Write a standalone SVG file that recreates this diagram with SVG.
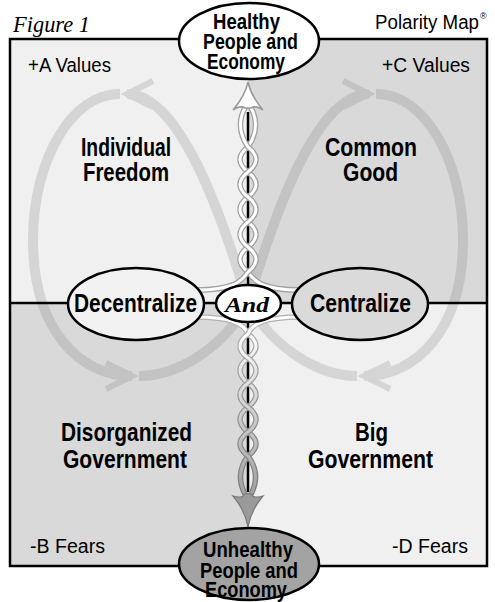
<svg xmlns="http://www.w3.org/2000/svg" xmlns:xlink="http://www.w3.org/1999/xlink" width="495" height="602" viewBox="0 0 495 602">
<style>
.lab{font-family:"Liberation Sans",Arial,sans-serif;font-weight:bold;font-size:25px;fill:#000}
.ell{font-family:"Liberation Sans",Arial,sans-serif;font-weight:bold;font-size:22px;fill:#000}
.reg{font-family:"Liberation Sans",Arial,sans-serif;font-size:20px;fill:#000}
.node{stroke:#000;stroke-width:2.5}
.so{fill:none;stroke:#a0a0a0;stroke-width:5.5}
.si{fill:none;stroke:#fff;stroke-width:3}
.bo{fill:none;stroke:url(#gOut);stroke-width:5.5}
.bi{fill:none;stroke:url(#gIn);stroke-width:3}
</style>
<defs>
<linearGradient id="gIn" gradientUnits="userSpaceOnUse" x1="0" y1="330" x2="0" y2="495">
<stop offset="0" stop-color="#ffffff"/><stop offset="1" stop-color="#a0a0a0"/>
</linearGradient>
<linearGradient id="gOut" gradientUnits="userSpaceOnUse" x1="0" y1="330" x2="0" y2="495">
<stop offset="0" stop-color="#b0b0b0"/><stop offset="1" stop-color="#7a7a7a"/>
</linearGradient>
<clipPath id="lightQ"><rect x="10" y="39" width="238" height="264"/><rect x="248" y="303" width="239" height="263"/></clipPath>
<clipPath id="darkQ"><rect x="248" y="39" width="239" height="264"/><rect x="10" y="303" width="238" height="263"/></clipPath>
<g id="lobe">
<path d="M248,303 C222,215 180,94 127,94"/>
<path d="M120,94 C72,93 33,160 33,240 C33,330 80,376 132,376"/>
<path d="M139,376 C180,376 225,345 248,303"/>
<path d="M153,81 L127,94 L153,107" stroke-width="6"/>
<path d="M106,363 L132,376 L106,389" stroke-width="6"/>
</g>
<g id="loopShape">
<use xlink:href="#lobe"/>
<use xlink:href="#lobe" transform="matrix(-1 0 0 1 496 0)"/>
</g>
</defs>
<g id="background">
<rect x="10" y="39" width="238" height="264" fill="#f0f0f0"/>
<rect x="248" y="39" width="239" height="264" fill="#d9d9d9"/>
<rect x="10" y="303" width="238" height="263" fill="#d9d9d9"/>
<rect x="248" y="303" width="239" height="263" fill="#f0f0f0"/>
</g>
<g id="loop" fill="none" stroke-width="10">
<use xlink:href="#loopShape" stroke="#d5d5d5" clip-path="url(#lightQ)"/>
<use xlink:href="#loopShape" stroke="#c3c3c3" clip-path="url(#darkQ)"/>
</g>
<g id="frame" fill="none" stroke="#000" stroke-width="2.5">
<rect x="10" y="39" width="477" height="527"/>
<line x1="10" y1="303" x2="487" y2="303"/>
</g>
<g id="connectors">
<line x1="248" y1="112" x2="248" y2="492" stroke="#000" stroke-width="2.5"/>
<path class="so" d="M250,106 Q262,126 248,147 Q232,159.5 248,172 Q264,184.5 248,197 Q232,209.5 248,222 Q264,234.5 248,247 Q232,259.5 248,272 C254,281 262,290 300,290"/>
<path class="si" d="M250,106 Q262,126 248,147 Q232,159.5 248,172 Q264,184.5 248,197 Q232,209.5 248,222 Q264,234.5 248,247 Q232,259.5 248,272 C254,281 262,290 300,290"/>
<path class="so" d="M246,106 Q234,126 248,147 Q264,159.5 248,172 Q232,184.5 248,197 Q264,209.5 248,222 Q232,234.5 248,247 Q264,259.5 248,272 C242,281 234,290 196,290"/>
<path class="si" d="M246,106 Q234,126 248,147 Q264,159.5 248,172 Q232,184.5 248,197 Q264,209.5 248,222 Q232,234.5 248,247 Q264,259.5 248,272 C242,281 234,290 196,290"/>
<path class="bo" d="M195,317 C232,317 244,324 248,334 Q264,346 248,358 Q232,370.5 248,383 Q264,395 248,407 Q232,419.5 248,432 Q264,444 248,456 Q234,475 246,496"/>
<path class="bi" d="M195,317 C232,317 244,324 248,334 Q264,346 248,358 Q232,370.5 248,383 Q264,395 248,407 Q232,419.5 248,432 Q264,444 248,456 Q234,475 246,496"/>
<path class="bo" d="M301,317 C264,317 252,324 248,334 Q232,346 248,358 Q264,370.5 248,383 Q232,395 248,407 Q264,419.5 248,432 Q232,444 248,456 Q262,475 250,496"/>
<path class="bi" d="M301,317 C264,317 252,324 248,334 Q232,346 248,358 Q264,370.5 248,383 Q232,395 248,407 Q264,419.5 248,432 Q232,444 248,456 Q262,475 250,496"/>
<path d="M248,82 Q251,96 263,110 Q256,105 251,108 L245,108 Q240,105 233,110 Q245,96 248,82 Z" fill="#fff" stroke="#999" stroke-width="1.5"/>
<path d="M248,527 Q245,510 233,496 Q242,499 245,494 L251,494 Q254,499 263,496 Q251,510 248,527 Z" fill="#9a9a9a" stroke="#7a7a7a" stroke-width="1.2"/>
</g>
<g id="node-healthy">
<ellipse class="node" cx="249" cy="41" rx="70" ry="38" fill="#fff"/>
<text class="ell" x="213" y="29" textLength="67" lengthAdjust="spacingAndGlyphs">Healthy</text>
<text class="ell" x="203" y="49" textLength="95" lengthAdjust="spacingAndGlyphs">People and</text>
<text class="ell" x="207" y="69" textLength="78" lengthAdjust="spacingAndGlyphs">Economy</text>
</g>
<g id="node-unhealthy">
<ellipse class="node" cx="249" cy="564" rx="70" ry="36" fill="#a3a3a3"/>
<text class="ell" x="203" y="557" textLength="90" lengthAdjust="spacingAndGlyphs">Unhealthy</text>
<text class="ell" x="200" y="578" textLength="98" lengthAdjust="spacingAndGlyphs">People and</text>
<text class="ell" x="205" y="597" textLength="82" lengthAdjust="spacingAndGlyphs">Economy</text>
</g>
<g id="node-decentralize">
<ellipse class="node" cx="136" cy="304" rx="68" ry="36" fill="#f2f2f2"/>
<text class="lab" x="74" y="312" textLength="123" lengthAdjust="spacingAndGlyphs">Decentralize</text>
</g>
<g id="node-centralize">
<ellipse class="node" cx="360" cy="304" rx="68" ry="36" fill="#dadada"/>
<text class="lab" x="310" y="312" textLength="101" lengthAdjust="spacingAndGlyphs">Centralize</text>
</g>
<g id="node-and">
<ellipse class="node" cx="248.5" cy="303.5" rx="32.5" ry="18.5" fill="#fff"/>
<text x="225" y="312" textLength="44" lengthAdjust="spacingAndGlyphs" style="font-family:'Liberation Serif','Times New Roman',serif;font-weight:bold;font-style:italic;font-size:22px">And</text>
</g>
<g id="labels">
<text x="13" y="32" textLength="77" lengthAdjust="spacingAndGlyphs" style="font-family:'Liberation Serif','Times New Roman',serif;font-style:italic;font-size:23px">Figure 1</text>
<text class="reg" x="375" y="29" textLength="104" lengthAdjust="spacingAndGlyphs">Polarity Map</text>
<text class="reg" x="480" y="19" style="font-size:9px">®</text>
<text class="reg" x="28" y="72" textLength="83" lengthAdjust="spacingAndGlyphs">+A Values</text>
<text class="reg" x="382" y="72" textLength="88" lengthAdjust="spacingAndGlyphs">+C Values</text>
<text class="reg" x="30" y="553" textLength="75" lengthAdjust="spacingAndGlyphs">-B Fears</text>
<text class="reg" x="392" y="553" textLength="76" lengthAdjust="spacingAndGlyphs">-D Fears</text>
<text class="lab" x="81" y="156" textLength="90" lengthAdjust="spacingAndGlyphs">Individual</text>
<text class="lab" x="83" y="181" textLength="86" lengthAdjust="spacingAndGlyphs">Freedom</text>
<text class="lab" x="325" y="156" textLength="92" lengthAdjust="spacingAndGlyphs">Common</text>
<text class="lab" x="343" y="181" textLength="55" lengthAdjust="spacingAndGlyphs">Good</text>
<text class="lab" x="61" y="441" textLength="131" lengthAdjust="spacingAndGlyphs">Disorganized</text>
<text class="lab" x="63" y="468" textLength="124" lengthAdjust="spacingAndGlyphs">Government</text>
<text class="lab" x="355" y="441" textLength="33" lengthAdjust="spacingAndGlyphs">Big</text>
<text class="lab" x="308" y="468" textLength="125" lengthAdjust="spacingAndGlyphs">Government</text>
</g>
</svg>
